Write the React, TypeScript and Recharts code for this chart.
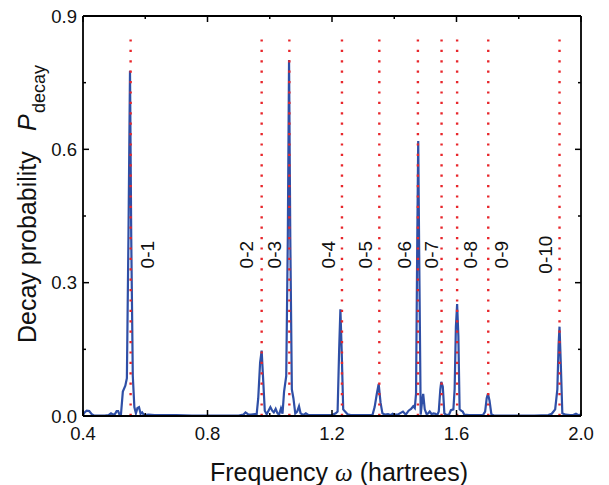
import React from 'react';
import { LineChart, Line, XAxis, YAxis, ReferenceLine } from 'recharts';

// ---- data ----
const freq = [
  0.400, 0.405, 0.412, 0.420, 0.428, 0.435, 0.450, 0.470, 0.482, 0.490, 0.497, 0.503, 0.508, 0.513, 0.517, 0.522,
  0.528, 0.536, 0.541, 0.546, 0.551, 0.555, 0.560, 0.565, 0.570, 0.575, 0.580, 0.585, 0.590, 0.596, 0.610, 0.630,
  0.660, 0.700, 0.750, 0.800, 0.850, 0.900, 0.915, 0.922, 0.930, 0.940, 0.952, 0.958, 0.963, 0.969, 0.974, 0.979,
  0.984, 0.990, 0.996, 1.002, 1.008, 1.013, 1.019, 1.025, 1.030, 1.036, 1.041, 1.046, 1.053, 1.058, 1.062, 1.066,
  1.071, 1.076, 1.082, 1.088, 1.094, 1.099, 1.104, 1.110, 1.116, 1.125, 1.150, 1.180, 1.200, 1.212, 1.218, 1.223,
  1.227, 1.231, 1.236, 1.242, 1.250, 1.260, 1.300, 1.330, 1.337, 1.344, 1.350, 1.356, 1.362, 1.370, 1.380, 1.388,
  1.395, 1.403, 1.411, 1.418, 1.428, 1.437, 1.446, 1.454, 1.461, 1.466, 1.470, 1.474, 1.477, 1.481, 1.485, 1.489,
  1.493, 1.498, 1.504, 1.509, 1.514, 1.520, 1.526, 1.532, 1.538, 1.543, 1.548, 1.551, 1.556, 1.561, 1.568, 1.576,
  1.582, 1.590, 1.594, 1.598, 1.602, 1.606, 1.610, 1.615, 1.620, 1.625, 1.640, 1.660, 1.685, 1.692, 1.697, 1.701,
  1.706, 1.712, 1.720, 1.760, 1.800, 1.850, 1.895, 1.906, 1.917, 1.924, 1.928, 1.931, 1.935, 1.940, 1.950, 1.965,
  1.975, 1.984, 1.992, 2.000,
];
const pDecay = [
  0.002, 0.008, 0.012, 0.011, 0.004, 0.001, 0.001, 0.001, 0.002, 0.006, 0.003, 0.005, 0.011, 0.011, 0.003, 0.004,
  0.055, 0.068, 0.085, 0.400, 0.777, 0.400, 0.090, 0.020, 0.006, 0.018, 0.020, 0.005, 0.008, 0.002, 0.003, 0.002,
  0.002, 0.002, 0.001, 0.001, 0.001, 0.001, 0.003, 0.008, 0.004, 0.003, 0.004, 0.004, 0.040, 0.120, 0.147, 0.080,
  0.012, 0.004, 0.012, 0.020, 0.012, 0.008, 0.016, 0.006, 0.003, 0.017, 0.005, 0.055, 0.090, 0.400, 0.801, 0.400,
  0.060, 0.040, 0.006, 0.010, 0.022, 0.006, 0.004, 0.003, 0.006, 0.002, 0.002, 0.002, 0.002, 0.006, 0.010, 0.150,
  0.240, 0.150, 0.015, 0.010, 0.004, 0.002, 0.002, 0.002, 0.020, 0.050, 0.072, 0.030, 0.006, 0.003, 0.004, 0.002,
  0.005, 0.003, 0.003, 0.006, 0.010, 0.003, 0.012, 0.016, 0.022, 0.018, 0.050, 0.400, 0.619, 0.300, 0.003, 0.030,
  0.050, 0.015, 0.004, 0.006, 0.010, 0.004, 0.006, 0.005, 0.002, 0.010, 0.060, 0.077, 0.066, 0.006, 0.002, 0.003,
  0.013, 0.015, 0.060, 0.200, 0.252, 0.180, 0.015, 0.012, 0.010, 0.003, 0.002, 0.002, 0.002, 0.010, 0.040, 0.050,
  0.035, 0.004, 0.001, 0.001, 0.001, 0.001, 0.002, 0.005, 0.015, 0.060, 0.160, 0.201, 0.120, 0.006, 0.003, 0.002,
  0.002, 0.005, 0.002, 0.003,
];

const transitionLabels = ['0-1', '0-2', '0-3', '0-4', '0-5', '0-6', '0-7', '0-8', '0-9', '0-10'];
const transitionFreq = [0.553, 0.974, 1.063, 1.232, 1.352, 1.476, 1.552, 1.602, 1.702, 1.931];
const transitionTop = 0.85;
const labelLevel = 0.363;

const xMajorTicks = [0.4, 0.8, 1.2, 1.6, 2.0];
const xMinorTicks = [0.6, 1.0, 1.4, 1.8];
const yMajorTicks = [0.0, 0.3, 0.6, 0.9];
const yMinorTicks = [0.15, 0.45, 0.75];

// ---- layout ----
const labelDx = [17, -15, -15, -14, -14, -14, -10, 13, 13, -14];

const data = freq.map((f, i) => ({ f, p: pDecay[i] }));
const xTicks = [...xMajorTicks, ...xMinorTicks].sort((a, b) => a - b);
const yTicks = [...yMajorTicks, ...yMinorTicks].sort((a, b) => a - b);
const isMajor = (arr: number[], v: number) => arr.some((m) => Math.abs(m - v) < 1e-6);

const FONT = '"Liberation Sans", Arial, Helvetica, sans-serif';
const BLUE = '#2f4fa6';
const RED = '#e8262b';

const BottomTick = (props: any) => {
  const { x, y, payload } = props;
  const major = isMajor(xMajorTicks, payload.value);
  return (
    <g>
      <line x1={x} x2={x} y1={y} y2={y - (major ? 6 : 3)} stroke="#000" strokeWidth={1.5} />
      {major && (
        <text x={x} y={y + 24} textAnchor="middle" fontFamily={FONT} fontSize={18.5} fill="#111">
          {payload.value.toFixed(1)}
        </text>
      )}
    </g>
  );
};
const TopTick = (props: any) => {
  const { x, y, payload } = props;
  const major = isMajor(xMajorTicks, payload.value);
  return <line x1={x} x2={x} y1={y} y2={y + (major ? 6 : 3)} stroke="#000" strokeWidth={1.5} />;
};
const LeftTick = (props: any) => {
  const { x, y, payload } = props;
  const major = isMajor(yMajorTicks, payload.value);
  return (
    <g>
      <line x1={x} x2={x + (major ? 6 : 3)} y1={y} y2={y} stroke="#000" strokeWidth={1.5} />
      {major && (
        <text x={x - 6} y={y} dy={6.5} textAnchor="end" fontFamily={FONT} fontSize={18.5} fill="#111">
          {payload.value.toFixed(1)}
        </text>
      )}
    </g>
  );
};
const RightTick = (props: any) => {
  const { x, y, payload } = props;
  const major = isMajor(yMajorTicks, payload.value);
  return <line x1={x} x2={x - (major ? 6 : 3)} y1={y} y2={y} stroke="#000" strokeWidth={1.5} />;
};

const makeLabel = (text: string, dx: number) => (props: any) => {
  const vb = props.viewBox || {};
  const bottom = vb.y + vb.height;
  const cy = bottom - (labelLevel / transitionTop) * vb.height;
  const cx = vb.x + dx;
  return (
    <text
      x={cx}
      y={cy}
      dy={6.8}
      textAnchor="middle"
      transform={`rotate(-90, ${cx}, ${cy})`}
      fontFamily={FONT}
      fontSize={19}
      fill="#111"
    >
      {text}
    </text>
  );
};

export default function App() {
  return (
    <div style={{ position: 'absolute', left: 0, top: 0, width: 609, height: 485, background: '#fff' }}>
      <LineChart
        width={609}
        height={485}
        data={data}
        margin={{ top: 6, right: 18, bottom: 29, left: 23 }}
      >
        <XAxis
          xAxisId="b"
          dataKey="f"
          type="number"
          domain={[0.4, 2.0]}
          ticks={xTicks}
          allowDataOverflow
          orientation="bottom"
          height={40}
          tickSize={0}
          tickMargin={0}
          tickLine={false}
          tick={<BottomTick />}
          axisLine={{ stroke: '#000', strokeWidth: 1.8 }}
          interval={0}
        />
        <XAxis
          xAxisId="t"
          dataKey="f"
          type="number"
          domain={[0.4, 2.0]}
          ticks={xTicks}
          allowDataOverflow
          orientation="top"
          height={10}
          tickSize={0}
          tickMargin={0}
          tickLine={false}
          tick={<TopTick />}
          axisLine={{ stroke: '#000', strokeWidth: 1.8 }}
          interval={0}
        />
        <YAxis
          yAxisId="l"
          type="number"
          domain={[0, 0.9]}
          ticks={yTicks}
          allowDataOverflow
          orientation="left"
          width={60}
          tickSize={0}
          tickMargin={0}
          tickLine={false}
          tick={<LeftTick />}
          axisLine={{ stroke: '#000', strokeWidth: 1.8 }}
          interval={0}
        />
        <YAxis
          yAxisId="r"
          type="number"
          domain={[0, 0.9]}
          ticks={yTicks}
          allowDataOverflow
          orientation="right"
          width={10}
          tickSize={0}
          tickMargin={0}
          tickLine={false}
          tick={<RightTick />}
          axisLine={{ stroke: '#000', strokeWidth: 1.8 }}
          interval={0}
        />
        <Line
          xAxisId="b"
          yAxisId="l"
          type="linear"
          dataKey="p"
          stroke={BLUE}
          strokeWidth={2.2}
          dot={false}
          isAnimationActive={false}
        />
        {transitionFreq.map((f, i) => (
          <ReferenceLine
            key={transitionLabels[i]}
            xAxisId="b"
            yAxisId="l"
            segment={[{ x: f, y: 0 }, { x: f, y: transitionTop }]}
            stroke={RED}
            strokeWidth={2.4}
            strokeDasharray="2.2 8.2"
            label={makeLabel(transitionLabels[i], labelDx[i])}
          />
        ))}
      </LineChart>
      <svg
        width={609}
        height={485}
        style={{ position: 'absolute', left: 0, top: 0, pointerEvents: 'none' }}
      >
        <text
          x={36}
          y={343}
          transform="rotate(-90, 36, 343)"
          fontFamily={FONT}
          fontSize={25}
          fill="#111"
        >
          Decay probability
        </text>
        <text
          x={36}
          y={131}
          transform="rotate(-90, 36, 131)"
          fontFamily={FONT}
          fontSize={25}
          fontStyle="italic"
          fill="#111"
        >
          P
        </text>
        <text
          x={45}
          y={113}
          transform="rotate(-90, 45, 113)"
          fontFamily={FONT}
          fontSize={18}
          fill="#111"
        >
          decay
        </text>
        <text x={339} y={481} textAnchor="middle" fontFamily={FONT} fontSize={25} fill="#111">
          Frequency{' '}
          <tspan fontFamily='"Liberation Serif", "DejaVu Serif", serif' fontStyle="italic">
            ω
          </tspan>{' '}
          (hartrees)
        </text>
      </svg>
    </div>
  );
}
